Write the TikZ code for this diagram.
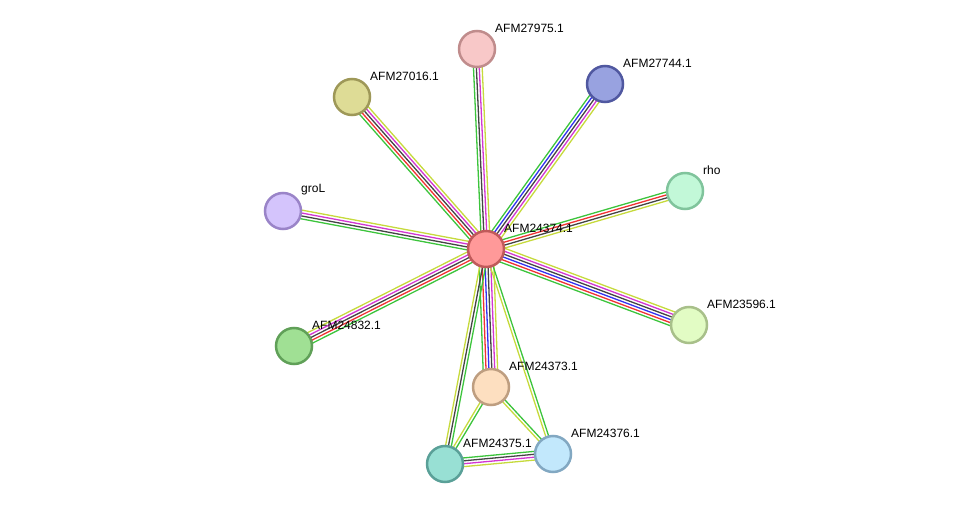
\documentclass[tikz,border=0pt]{standalone}
\usepackage{fontspec}
\setmainfont{Liberation Sans}
\usetikzlibrary{calc}
\definecolor{EvNeigh}{HTML}{3CC43C}
\definecolor{EvFusion}{HTML}{F03232}
\definecolor{EvCooc}{HTML}{3232F0}
\definecolor{EvCoexp}{HTML}{444444}
\definecolor{EvExp}{HTML}{D236D2}
\definecolor{EvText}{HTML}{C6DA3C}
\definecolor{FillHub}{HTML}{FF9999}\definecolor{LineHub}{HTML}{C05A5A}
\definecolor{FillA}{HTML}{F8C8C8}\definecolor{LineA}{HTML}{C08C8C}
\definecolor{FillB}{HTML}{98A2E0}\definecolor{LineB}{HTML}{5058A0}
\definecolor{FillC}{HTML}{DEDC96}\definecolor{LineC}{HTML}{9E9858}
\definecolor{FillD}{HTML}{C2F8D8}\definecolor{LineD}{HTML}{80C49C}
\definecolor{FillE}{HTML}{D4C4FC}\definecolor{LineE}{HTML}{9A84C8}
\definecolor{FillF}{HTML}{E2FCC4}\definecolor{LineF}{HTML}{A8C08A}
\definecolor{FillG}{HTML}{A0E094}\definecolor{LineG}{HTML}{60A058}
\definecolor{FillH}{HTML}{FDDFC0}\definecolor{LineH}{HTML}{BE9E80}
\definecolor{FillI}{HTML}{98E0D4}\definecolor{LineI}{HTML}{5AA098}
\definecolor{FillJ}{HTML}{C2E8FC}\definecolor{LineJ}{HTML}{82A8C2}
\pgfdeclarelayer{bg}
\pgfsetlayers{bg,main}
% parallel evidence lines between two proteins
\newcommand{\link}[3]{%
  \foreach \c [count=\i] in {#3} {\xdef\nlines{\i}}
  \begin{pgfonlayer}{bg}
  \foreach \c [count=\i] in {#3} {
    \pgfmathsetmacro{\off}{(((\nlines+1)/2)-\i)*2.9}
    \draw[evline,\c] ($(#1)!\off pt!90:(#2)$) -- ($(#2)!\off pt!-90:(#1)$);
  }
  \end{pgfonlayer}}

\begin{document}
\begin{tikzpicture}[
  x=1pt,y=-1pt,
  prot/.style={circle,minimum size=36pt,inner sep=0pt,line width=2.5pt},
  evline/.style={line width=1.3pt},
  lab/.style={anchor=west,inner sep=0pt,font=\fontsize{12}{14}\selectfont}
]
\useasboundingbox (0,0) rectangle (976,510);

\node[prot,draw=LineHub,fill=FillHub] (c) at (486,249) {};
\node[prot,draw=LineA,fill=FillA] (n27975) at (477,49) {};
\node[prot,draw=LineB,fill=FillB] (n27744) at (605,84) {};
\node[prot,draw=LineC,fill=FillC] (n27016) at (352,97) {};
\node[prot,draw=LineD,fill=FillD] (rho) at (685,191) {};
\node[prot,draw=LineE,fill=FillE] (groL) at (283,211) {};
\node[prot,draw=LineF,fill=FillF] (n23596) at (689,325) {};
\node[prot,draw=LineG,fill=FillG] (n24832) at (294,346) {};
\node[prot,draw=LineH,fill=FillH] (n24373) at (491,387) {};
\node[prot,draw=LineI,fill=FillI] (n24375) at (445,464) {};
\node[prot,draw=LineJ,fill=FillJ] (n24376) at (553,454) {};

\link{c}{n27975}{EvNeigh,EvCoexp,EvExp,EvText}
\link{c}{n27744}{EvNeigh,EvCooc,EvCoexp,EvExp,EvText}
\link{c}{n27016}{EvNeigh,EvFusion,EvCoexp,EvExp,EvText}
\link{c}{rho}{EvNeigh,EvFusion,EvCoexp,EvText}
\link{c}{groL}{EvNeigh,EvCoexp,EvExp,EvText}
\link{n23596}{c}{EvNeigh,EvFusion,EvCooc,EvCoexp,EvExp,EvText}
\link{c}{n24832}{EvNeigh,EvFusion,EvCoexp,EvExp,EvText}
\link{n24373}{c}{EvNeigh,EvFusion,EvCooc,EvCoexp,EvExp,EvText}
\link{c}{n24375}{EvNeigh,EvCoexp,EvText}
\link{c}{n24376}{EvNeigh,EvText}
\link{n24373}{n24375}{EvNeigh,EvText}
\link{n24373}{n24376}{EvNeigh,EvText}
\link{n24375}{n24376}{EvNeigh,EvCoexp,EvExp,EvText}

\foreach \n/\t in {c/AFM24374.1,n27975/AFM27975.1,n27744/AFM27744.1,
    n27016/AFM27016.1,rho/rho,groL/groL,n23596/AFM23596.1,n24832/AFM24832.1,
    n24373/AFM24373.1,n24375/AFM24375.1,n24376/AFM24376.1}
  \node[lab] (l\n) at ($(\n)+(18,-21)$) {\t};
\end{tikzpicture}
\end{document}
